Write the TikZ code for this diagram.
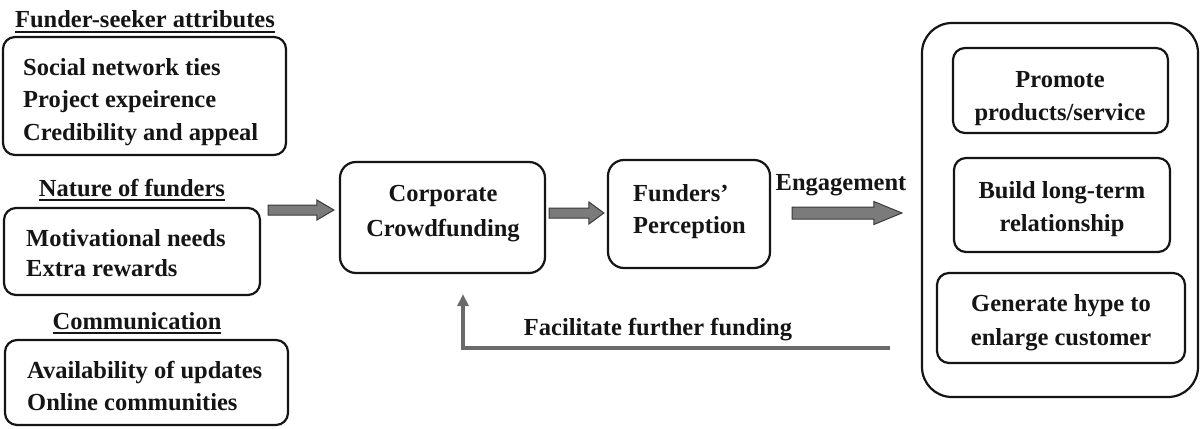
\documentclass[tikz,border=0pt]{standalone}
\usepackage{fontspec}
\setmainfont{Liberation Serif}[BoldFont={Liberation Serif Bold}]
\newfontfamily\labelfont{Liberation Serif Bold}
\usetikzlibrary{calc,arrows.meta}

\definecolor{ink}{HTML}{151515}
\definecolor{arrowfill}{HTML}{7B7B7B}
\definecolor{arrowedge}{HTML}{3A3A3A}
\definecolor{loopgray}{HTML}{6A6A6A}

% heading text with a ruled underline
\newcommand\titleline[1]{\setbox0\hbox{#1}\rlap{\rule[-4.6pt]{\wd0}{1.8pt}}\box0}

% horizontal block arrow: start, tip, half body, half head, head length
\newcommand\blockarrow[5]{%
  \filldraw[blockstyle]
    ($(#1)+(0,-#3)$) -- ($(#2)+(-#5,-#3)$) -- ($(#2)+(-#5,-#4)$) -- (#2)
    -- ($(#2)+(-#5,#4)$) -- ($(#2)+(-#5,#3)$) -- ($(#1)+(0,#3)$) -- cycle;}

\tikzset{
  txt/.style={font=\labelfont\fontsize{24.5}{30}\selectfont, text=ink, inner sep=0pt},
  box/.style={draw=ink, line width=2.2pt, rounded corners=12pt, inner sep=0pt},
  bigbox/.style={box, rounded corners=16pt},
  outerbox/.style={box, rounded corners=30pt},
  blockstyle/.style={fill=arrowfill, draw=arrowedge, line width=1pt, line join=miter},
  loopline/.style={draw=loopgray, line width=4pt, -{Triangle[length=12pt,width=11pt]}},
}

\begin{document}
\begin{tikzpicture}[x=1pt,y=-1pt]
  \fill[white] (0,0) rectangle (1201,428);

  % ---- left column: attribute groups ----
  \node[txt, anchor=base] (t1) at (145,28) {\titleline{Funder-seeker attributes}};
  \node[box, minimum width=283pt, minimum height=118pt] (fsa) at (144.5,96) {};
  \node[txt, anchor=base west] (fsa1) at (23,75)  {Social network ties};
  \node[txt, anchor=base west] (fsa2) at (23,107) {Project expeirence};
  \node[txt, anchor=base west] (fsa3) at (23,140) {Credibility and appeal};

  \node[txt, anchor=base] (t2) at (132,196) {\titleline{Nature of funders}};
  \node[box, minimum width=256pt, minimum height=87pt] (nof) at (132,251.5) {};
  \node[txt, anchor=base west] (nof1) at (26,246) {Motivational needs};
  \node[txt, anchor=base west] (nof2) at (26,276) {Extra rewards};

  \node[txt, anchor=base] (t3) at (137,329) {\titleline{Communication}};
  \node[box, minimum width=283pt, minimum height=85pt] (com) at (146.5,382.5) {};
  \node[txt, anchor=base west] (com1) at (27,378) {Availability of updates};
  \node[txt, anchor=base west] (com2) at (27,410) {Online communities};

  % ---- middle: process boxes ----
  \node[bigbox, minimum width=205pt, minimum height=111pt] (cc) at (442.5,217.5) {};
  \node[txt, anchor=base] (cc1) at (443,201) {Corporate};
  \node[txt, anchor=base] (cc2) at (443,236) {Crowdfunding};

  \node[bigbox, minimum width=162pt, minimum height=108pt] (fp) at (689,214) {};
  \node[txt, anchor=base west] (fp1) at (633,201) {Funders’};
  \node[txt, anchor=base west] (fp2) at (633,233) {Perception};

  \node[txt, anchor=base] (eng) at (841,190) {Engagement};

  % ---- right: outcomes ----
  \node[outerbox, minimum width=276pt, minimum height=374pt] (out) at (1060,210) {};
  \node[box, minimum width=215pt, minimum height=85pt] (pro) at (1060.5,90.5) {};
  \node[txt, anchor=base] (pro1) at (1060,88)  {Promote};
  \node[txt, anchor=base] (pro2) at (1060,120) {products/service};

  \node[box, minimum width=216pt, minimum height=94pt] (bld) at (1062,205) {};
  \node[txt, anchor=base] (bld1) at (1062,198) {Build long-term};
  \node[txt, anchor=base] (bld2) at (1062,231) {relationship};

  \node[box, minimum width=248pt, minimum height=90pt] (gen) at (1061,318) {};
  \node[txt, anchor=base] (gen1) at (1061,311) {Generate hype to};
  \node[txt, anchor=base] (gen2) at (1061,345) {enlarge customer};

  % ---- block arrows ----
  \coordinate (a1s) at (268,210);
  \coordinate (a1e) at ($(cc.west)+(-5,-7.5)$);
  \coordinate (a2s) at ($(cc.east)+(3,-4.5)$);
  \coordinate (a2e) at ($(fp.west)+(-3,-1)$);
  \coordinate (a3s) at (792,213);
  \coordinate (a3e) at ($(out.west)+(-19,3)$);
  \blockarrow{a1s}{a1e}{5}{10}{17}
  \blockarrow{a2s}{a2e}{5}{11}{15}
  \blockarrow{a3s}{a3e}{6}{11.5}{28}

  % ---- feedback loop ----
  \coordinate (fbs) at (890,348);
  \coordinate (fbe) at ($(cc.south)+(20.5,20)$);
  \draw[loopline] (fbs) -| (fbe);
  \node[txt, anchor=base] (fb) at (658,335) {Facilitate further funding};
\end{tikzpicture}
\end{document}
